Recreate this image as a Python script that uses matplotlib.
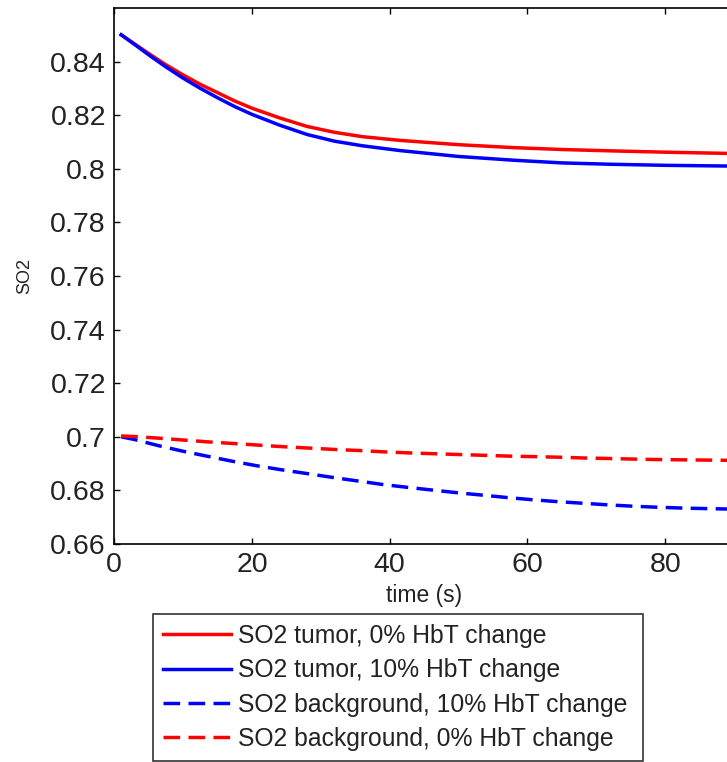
import matplotlib
matplotlib.use("Agg")
import matplotlib.pyplot as plt

plt.rcParams['font.family'] = ['Liberation Sans', 'DejaVu Sans']
plt.rcParams['lines.scale_dashes'] = False

# Tumor SO2 (solid) curves
t_tumor = [1, 3, 5, 7.5, 10, 12.5, 15, 17.5, 20, 24, 28, 32, 36, 41.5,
           50, 58, 65, 72, 80, 90]
so2_tumor_0 = [0.8500, 0.8465, 0.8430, 0.8388, 0.8350, 0.8315, 0.8284, 0.8253,
               0.8226, 0.8190, 0.8158, 0.8136, 0.8120, 0.8106, 0.8090, 0.8079,
               0.8072, 0.8067, 0.8062, 0.8057]
so2_tumor_10 = [0.8500, 0.8463, 0.8425, 0.8380, 0.8338, 0.8300, 0.8265, 0.8232,
                0.8203, 0.8163, 0.8128, 0.8103, 0.8086, 0.8068, 0.8046, 0.8032,
                0.8022, 0.8017, 0.8013, 0.8010]

# Background SO2 (dashed) curves
t_bg = [1, 2.9, 6.4, 10.0, 13.6, 17.3, 20.9, 24.5, 28.2, 31.8, 35.4, 39.0, 42.7,
        46.3, 49.9, 53.6, 57.2, 60.8, 64.4, 68.1, 71.7, 75.3, 79.0, 82.6, 86.2, 90]
so2_bg_10 = [0.7000, 0.6990, 0.6967, 0.6946, 0.6927, 0.6908, 0.6891, 0.6876, 0.6862,
             0.6848, 0.6835, 0.6822, 0.6811, 0.6801, 0.6791, 0.6782, 0.6773, 0.6765,
             0.6758, 0.6752, 0.6746, 0.6741, 0.6737, 0.6734, 0.6732, 0.6730]
so2_bg_0 = [0.7003, 0.7001, 0.6995, 0.6988, 0.6981, 0.6975, 0.6969, 0.6963, 0.6958,
            0.6953, 0.6949, 0.6944, 0.6940, 0.6937, 0.6934, 0.6931, 0.6928, 0.6926,
            0.6924, 0.6921, 0.6919, 0.6917, 0.6915, 0.6914, 0.6913, 0.6912]

labels = ['SO2 tumor, 0% HbT change', 'SO2 tumor, 10% HbT change',
          'SO2 background, 10% HbT change', 'SO2 background, 0% HbT change']

x_ticks = [0, 20, 40, 60, 80]
y_ticks = [0.66, 0.68, 0.70, 0.72, 0.74, 0.76, 0.78, 0.80, 0.82, 0.84]
y_tick_labels = ['0.66', '0.68', '0.7', '0.72', '0.74', '0.76', '0.78', '0.8', '0.82', '0.84']

W, H = 727, 762
fig = plt.figure(figsize=(W / 100, H / 100), dpi=100)
ax = fig.add_axes([114.3 / W, 1 - 544 / H, (734 - 114.3) / W, (544 - 8) / H])

lw = 2.5
dash = (12, 6)
h1, = ax.plot(t_tumor, so2_tumor_0, color='#ff0000', lw=lw)
h2, = ax.plot(t_tumor, so2_tumor_10, color='#0000ff', lw=lw)
h3, = ax.plot(t_bg, so2_bg_10, color='#0000ff', lw=lw, dashes=dash)
h4, = ax.plot(t_bg, so2_bg_0, color='#ff0000', lw=lw, dashes=dash)

ax.set_xlim(0, 90)
ax.set_ylim(0.66, 0.86)
ax.set_xticks(x_ticks)
ax.set_xticklabels([str(v) for v in x_ticks])
ax.set_yticks(y_ticks)
ax.set_yticklabels(y_tick_labels)
ax.tick_params(direction='in', length=4.5, width=1, top=True, right=True,
               labelsize=20.5, colors='black', labelcolor='#222222')
ax.tick_params(axis='y', pad=6)
ax.tick_params(axis='x', pad=6)
for s in ax.spines.values():
    s.set_linewidth(1.2)

ax.set_xlabel('time (s)', fontsize=16.5, labelpad=4, color='#222222')
ax.set_ylabel('SO2', fontsize=13, labelpad=12, color='#222222')

leg = fig.legend([h1, h2, h3, h4], labels, loc='lower left',
                 bbox_to_anchor=(153 / W, 1 - 761 / H, (643 - 153) / W, (761 - 613) / H),
                 bbox_transform=fig.transFigure, mode='expand',
                 fontsize=17.8, frameon=True, fancybox=False, shadow=False,
                 handlelength=2.75, handletextpad=0.3, borderpad=0.4,
                 labelspacing=0.42, borderaxespad=0)
leg.get_frame().set_edgecolor('black')
leg.get_frame().set_linewidth(1.2)
for txt in leg.get_texts():
    txt.set_color('#222222')

fig.savefig('out.png', dpi=100)
